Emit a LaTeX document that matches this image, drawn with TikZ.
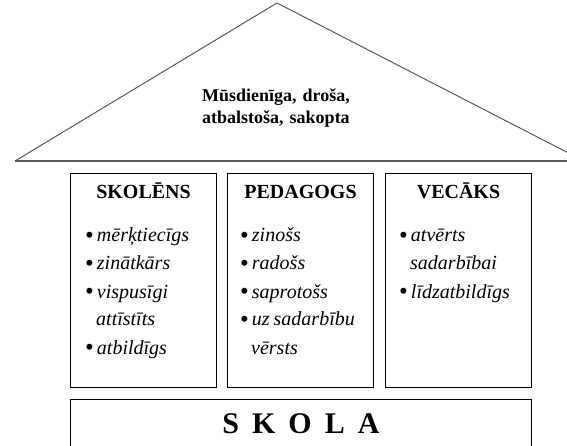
\documentclass[tikz,border=0pt]{standalone}
\usepackage{fontspec}
\setmainfont{Liberation Serif}
\usepackage{tikz}

\tikzset{
    pillar/.style={draw=black, line width=1pt, inner sep=0pt, minimum width=146pt, minimum height=214pt, anchor=north west},
    heading/.style={font=\fontsize{20}{24}\selectfont\bfseries, inner sep=0pt, anchor=base},
    items/.style={font=\fontsize{20}{28}\selectfont\itshape, inner sep=0pt, text width=128pt, align=left, anchor=base west},
}

% Bullet item for the lists
\newcommand{\bul}{\raisebox{-1.5pt}{\upshape\scalebox{1.25}{\textbullet}}\hspace{3pt}}
\newcommand{\cont}{\hspace*{11pt}}

\begin{document}
\begin{tikzpicture}[>=latex, x=1pt, y=-1pt]

    \useasboundingbox (0,0) rectangle (567,446);

    \begin{scope}
        % Clips the global figure
        \clip (0,0) rectangle (567,446);

        % Draws the roof
        \coordinate (apex) at (277,3);
        \draw[gray!70!black, line width=1pt, line join=round] (15,161) -- (apex) -- (584,161);
        \draw[gray!70!black, line width=1.4pt] (15,161) -- (584,161);

        % Motto inside the roof
        \node[font=\fontsize{18}{22}\selectfont\bfseries, inner sep=0pt, text width=200pt, align=center, anchor=base] (motto) at (276,102)
            {Mūsdienīga, droša,\\ atbalstoša, sakopta};

        % Draws the three pillars
        \node[pillar] (skolens) at (70,173) {};
        \node[pillar] (pedagogs) at (227,173) {};
        \node[pillar] (vecaks) at (385,173) {};

        % Titles of the pillars
        \node[heading] (skolens-title) at ([yshift=-26pt]skolens.north) {SKOLĒNS};
        \node[heading] (pedagogs-title) at ([yshift=-26pt]pedagogs.north) {PEDAGOGS};
        \node[heading] (vecaks-title) at ([yshift=-26pt]vecaks.north) {VECĀKS};

        % Lists of the pillars
        \node[items] (skolens-list) at ([xshift=15pt, yshift=-69pt]skolens.north west)
            {\bul mērķtiecīgs\\ \bul zinātkārs\\ \bul vispusīgi\\ \cont attīstīts\\ \bul atbildīgs};
        \node[items] (pedagogs-list) at ([xshift=13pt, yshift=-69pt]pedagogs.north west)
            {\bul zinošs\\ \bul radošs\\ \bul saprotošs\\ \bul uz\hspace{4pt}sadarbību\\ \cont vērsts};
        \node[items] (vecaks-list) at ([xshift=14pt, yshift=-69pt]vecaks.north west)
            {\bul atvērts\\ \cont sadarbībai\\ \bul līdzatbildīgs};

        % Draws the foundation
        \node[draw=black, line width=1pt, inner sep=0pt, minimum width=461pt, minimum height=60pt, anchor=north west] (skola) at (70,399) {};
        \node[font=\fontsize{30}{34}\selectfont\bfseries, inner sep=0pt, anchor=base] (skola-title) at ([yshift=-34pt]skola.north)
            {S\hspace{13pt}K\hspace{13pt}O\hspace{13pt}L\hspace{13pt}A};

    \end{scope}

\end{tikzpicture}
\end{document}
